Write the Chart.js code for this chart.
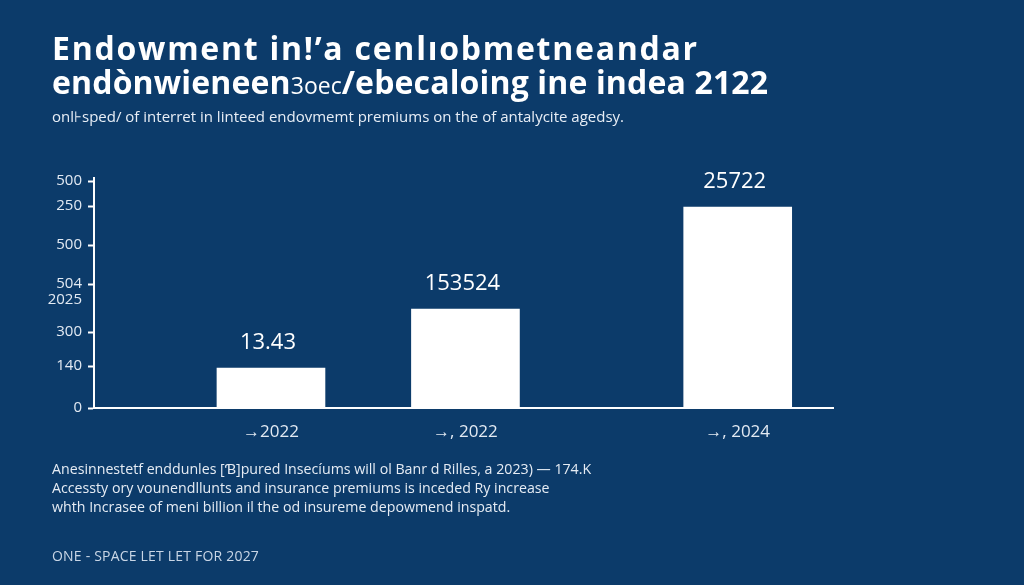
<!DOCTYPE html>
<html>
<head>
<meta charset="utf-8">
<script src="https://cdn.jsdelivr.net/npm/chart.js@4.4.1/dist/chart.umd.min.js"></script>
<style>
  html, body { margin:0; padding:0; }
  body { width:1024px; height:585px; background:#0c3b6a; overflow:hidden; position:relative; font-family:"Open Sans", Lato, sans-serif; color:#fff; }
  #wrap { position:absolute; left:0; top:0; width:1024px; height:585px; }
  .t { position:absolute; left:52px; white-space:nowrap; }
  #title1, #title2 { font-weight:700; font-size:32px; line-height:34px; color:#fff; }
  #title1 { top:31px; letter-spacing:1.75px; }
  #title2 { top:65px; letter-spacing:0.15px; }
  #sub { top:106px; font-size:15px; line-height:20px; color:#e8eef6; }
  .note { font-size:14.2px; line-height:19px; color:#e6ecf4; }
  #n1 { top:459px; } #n2 { top:478px; } #n3 { top:497px; }
  #foot { top:546px; font-size:14px; line-height:20px; color:#c9d6e6; letter-spacing:0.2px; }
</style>
</head>
<body>
<div id="wrap"><canvas id="c" width="1024" height="585"></canvas></div>
<div class="t" id="title1">Endowment in!’a cenlıobmetneandar</div>
<div class="t" id="title2">endònwieneen<span style="font-weight:400;font-size:23px;letter-spacing:0">3oec</span>/ebecaloing ine indea 2122</div>
<div class="t" id="sub">onl⊦sped/ of interret in linteed endovmemt premiums on the of antalycite agedsy.</div>
<div class="t note" id="n1">Anesinnestetf enddunles [Ɓ]pured Insecíums will ol Banr d Rilles, a 2023) — 174.K</div>
<div class="t note" id="n2">Accessty ory vounendllunts and insurance premiums is inceded Ry increase</div>
<div class="t note" id="n3">whth Incrasee of meni billion il the od insureme depowmend inspatd.</div>
<div class="t" id="foot">ONE - SPACE LET LET FOR 2027</div>
<script>
// ---- data ----
const categories = ["→2022", "→, 2022", "→, 2024"];
const categorySlots = [4.55, 9.55, 16.55];
const barValues = [40, 99, 201];
const barValueLabels = ["13.43", "153524", "25722"];
const yTickValues = [0, 42, 76, 108, 124, 163, 202, 227];
const yTickLabels = ["0", "140", "300", "2025", "504", "500", "250", "500"];

const barData = categorySlots.map((x, i) => ({ x: x, y: barValues[i] }));

const valueLabelPlugin = {
  id: 'valueLabels',
  afterDatasetsDraw(chart) {
    const ctx = chart.ctx;
    const meta = chart.getDatasetMeta(0);
    ctx.save();
    ctx.fillStyle = '#ffffff';
    ctx.font = '500 22px "Open Sans", sans-serif';
    ctx.textAlign = 'center';
    ctx.textBaseline = 'middle';
    meta.data.forEach((el, i) => {
      ctx.fillText(barValueLabels[i], el.x - 3, el.y - 25);
    });
    ctx.restore();
  }
};

new Chart(document.getElementById('c'), {
  type: 'bar',
  data: {
    datasets: [{
      data: barData,
      backgroundColor: '#ffffff',
      borderWidth: 0,
      barThickness: 108
    }]
  },
  options: {
    responsive: false,
    animation: false,
    events: [],
    layout: { padding: { left: 34, right: 191, top: 178, bottom: 137 } },
    plugins: { legend: { display: false }, tooltip: { enabled: false } },
    scales: {
      x: {
        type: 'linear',
        min: 0, max: 19,
        offset: false,
        afterBuildTicks(scale) { scale.ticks = categorySlots.map(v => ({ value: v })); },
        afterFit(scale) { scale.height = 40; },
        grid: { display: false, drawTicks: false, offset: false },
        border: { display: true, color: '#ffffff', width: 2 },
        ticks: {
          color: '#e3eaf3',
          font: { family: '"Open Sans", sans-serif', size: 17 },
          padding: 14,
          autoSkip: false,
          maxRotation: 0,
          callback: (v, i) => categories[i]
        }
      },
      y: {
        min: 0, max: 230,
        afterBuildTicks(scale) { scale.ticks = yTickValues.map(v => ({ value: v })); },
        afterFit(scale) { scale.width = 60; },
        grid: {
          drawOnChartArea: false,
          drawTicks: true,
          tickLength: 6,
          tickWidth: 2,
          tickColor: (c) => (c.index === 3 ? 'rgba(0,0,0,0)' : '#ffffff')
        },
        border: { display: true, color: '#ffffff', width: 2 },
        ticks: {
          color: '#e3eaf3',
          font: { family: '"Open Sans", sans-serif', size: 15 },
          padding: 6,
          autoSkip: false,
          callback: (v, i) => yTickLabels[i]
        }
      }
    }
  },
  plugins: [valueLabelPlugin]
});
</script>
</body>
</html>
